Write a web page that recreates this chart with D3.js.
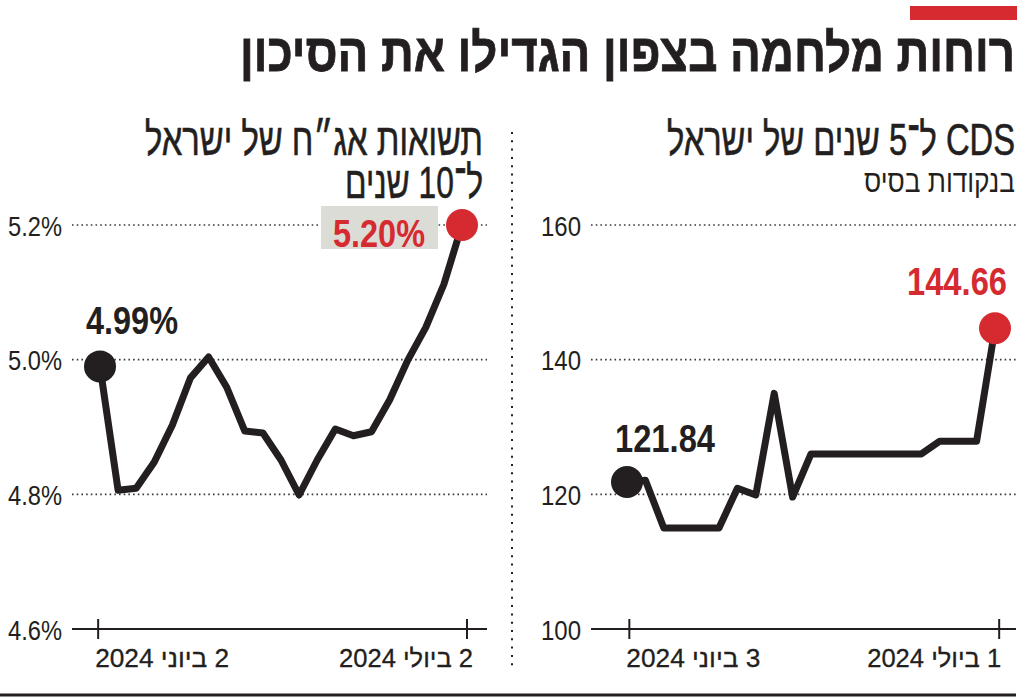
<!DOCTYPE html>
<html><head><meta charset="utf-8">
<script src="https://cdn.jsdelivr.net/npm/d3@7"></script>
<style>body{margin:0;background:#fff}svg{display:block}</style>
</head><body>
<svg id="c" width="1024" height="700"></svg>
<script>
// ---------- data ----------
const mainTitle = "רוחות מלחמה בצפון הגדילו את הסיכון";
const yieldTitle = ["תשואות אג״ח של ישראל", "ל־10 שנים"];
const cdsTitle = "CDS ל־5 שנים של ישראל";
const cdsSubtitle = "בנקודות בסיס";

const yieldValues = [4.99, 4.806, 4.809, 4.848, 4.903, 4.973, 5.004, 4.959, 4.894, 4.891, 4.851,
                     4.799, 4.851, 4.897, 4.887, 4.893, 4.940, 4.999, 5.048, 5.112, 5.20];
const cdsValues = [121.84, 122.1, 115.0, 115.0, 115.0, 115.0, 120.9, 119.9, 135.0, 119.6, 126.0,
                   126.0, 126.0, 126.0, 126.0, 126.0, 126.0, 127.9, 127.9, 127.9, 144.66];

const yieldTicks = [4.6, 4.8, 5.0, 5.2];
const yieldTickLabels = ["4.6%", "4.8%", "5.0%", "5.2%"];
const cdsTicks = [100, 120, 140, 160];
const cdsTickLabels = ["100", "120", "140", "160"];

const yieldDateLabels = ["2 ביוני 2024", "2 ביולי 2024"];
const yieldDatePos = [-0.13, 20.25];
const cdsDateLabels = ["3 ביוני 2024", "1 ביולי 2024"];
const cdsDatePos = [0.1, 20.2];

const yieldStartLabel = "4.99%";
const yieldEndLabel = "5.20%";
const cdsStartLabel = "121.84";
const cdsEndLabel = "144.66";

// ---------- style ----------
const INK = "#231f20", RED = "#d52a30", BOX = "#dcdcd6";
const FONT = "'Liberation Sans Narrow','Liberation Sans','DejaVu Sans',sans-serif";

const svg = d3.select("#c");

function addText(g, str, x, y, o) {
  const t = g.append("text").attr("x", x).attr("y", y).text(str)
    .attr("font-family", FONT).attr("font-size", o.size)
    .attr("font-weight", o.weight || "normal").attr("fill", o.fill || INK);
  if (o.rtl) t.attr("direction", "rtl");
  t.attr("text-anchor", o.anchor || "start");
  if (o.len) t.attr("textLength", o.len).attr("lengthAdjust", "spacingAndGlyphs");
  if (o.stroke) t.attr("stroke", o.fill || INK).attr("stroke-width", o.stroke);
  return t;
}

// red bar + main title
svg.append("rect").attr("x", 910).attr("y", 6).attr("width", 107).attr("height", 14).attr("fill", RED);
addText(svg, mainTitle, 1015, 71, {size: 53, weight: "bold", rtl: true, anchor: "start", len: 775, stroke: 0.8});

// separator + bottom rule
svg.append("line").attr("x1", 512).attr("x2", 512).attr("y1", 132).attr("y2", 668)
  .attr("stroke", INK).attr("stroke-width", 2).attr("stroke-dasharray", "2,6.3");
svg.append("line").attr("x1", 0).attr("x2", 1016).attr("y1", 695).attr("y2", 695)
  .attr("stroke", INK).attr("stroke-width", 3);

function panel(cfg) {
  const g = svg.append("g");
  const x = d3.scaleLinear().domain([0, cfg.values.length - 1]).range(cfg.xRange);
  const y = d3.scaleLinear().domain(d3.extent(cfg.ticks)).range([629, 225]);

  // gridlines
  g.selectAll(".grid").data(cfg.ticks.slice(1)).join("line")
    .attr("x1", cfg.axisX[0]).attr("x2", cfg.axisX[1])
    .attr("y1", d => y(d)).attr("y2", d => y(d))
    .attr("stroke", "#3a3a3a").attr("stroke-width", 1.6).attr("stroke-dasharray", "1.6,3.1");

  // y axis labels
  const ya = g.append("g").attr("transform", `translate(${cfg.axisX[0]},0)`)
    .call(d3.axisLeft(y).tickValues(cfg.ticks).tickFormat((d, i) => cfg.tickLabels[i]).tickSize(0).tickPadding(10));
  ya.select(".domain").remove();
  ya.selectAll("text").attr("font-family", FONT).attr("font-size", 28).attr("fill", INK)
    .attr("dy", "0.36em")
    .attr("textLength", d => cfg.tickLabels[cfg.ticks.indexOf(d)].length === 4 ? 54 : 40)
    .attr("lengthAdjust", "spacingAndGlyphs");

  // baseline
  g.append("line").attr("x1", cfg.axisX[0]).attr("x2", cfg.axisX[1])
    .attr("y1", 629).attr("y2", 629).attr("stroke", INK).attr("stroke-width", 2.2);

  // x axis ticks & date labels
  const xa = g.append("g").attr("transform", "translate(0,619)")
    .call(d3.axisBottom(x).tickValues(cfg.datePos).tickFormat((d, i) => cfg.dateLabels[i]).tickSize(20).tickPadding(8));
  xa.select(".domain").remove();
  xa.selectAll(".tick line").attr("stroke", INK).attr("stroke-width", 2);
  xa.selectAll(".tick text").each(function(d, i) {
    const t = d3.select(this);
    t.attr("font-family", FONT).attr("font-size", 25).attr("fill", INK)
      .attr("stroke", INK).attr("stroke-width", 0.3)
      .attr("direction", "rtl").attr("y", 48).attr("dy", 0)
      .attr("textLength", 134).attr("lengthAdjust", "spacingAndGlyphs");
    if (i === 0) t.attr("text-anchor", "end").attr("x", -3);   // left edge at tick
    else t.attr("text-anchor", "start").attr("x", cfg.lastDx); // right edge at tick
  });

  // titles
  cfg.titles.forEach(tt => addText(g, tt.text, tt.x, tt.y,
    {size: tt.size, weight: tt.weight, rtl: true, anchor: "start", len: tt.len, stroke: tt.stroke}));

  // line
  const line = d3.line().x((d, i) => x(i)).y(d => y(d));
  g.append("path").datum(cfg.values).attr("d", line).attr("fill", "none")
    .attr("stroke", INK).attr("stroke-width", 7).attr("stroke-linejoin", "round");

  const n = cfg.values.length - 1;
  const x0 = x(0), y0 = y(cfg.values[0]), xn = x(n), yn = y(cfg.values[n]);

  if (cfg.endBox) {
    g.append("rect").attr("x", xn - 141).attr("y", yn - 19).attr("width", 117).attr("height", 43).attr("fill", BOX);
  }
  g.append("circle").attr("cx", x0).attr("cy", y0).attr("r", 16).attr("fill", INK);
  g.append("circle").attr("cx", xn).attr("cy", yn).attr("r", 16).attr("fill", RED);

  addText(g, cfg.startLabel, x0 + cfg.startOff[0], y0 + cfg.startOff[1],
    {size: 39, weight: "bold", anchor: "start", len: cfg.startLen});
  addText(g, cfg.endLabel, xn + cfg.endOff[0], yn + cfg.endOff[1],
    {size: 39, weight: "bold", anchor: "end", fill: RED, len: cfg.endLen});
}

panel({
  values: yieldValues, ticks: yieldTicks, tickLabels: yieldTickLabels,
  xRange: [100, 462], axisX: [72, 487],
  dateLabels: yieldDateLabels, datePos: yieldDatePos, lastDx: 6,
  titles: [
    {text: yieldTitle[0], x: 483, y: 155, size: 45, len: 338, stroke: 0.6},
    {text: yieldTitle[1], x: 483, y: 198, size: 45, len: 138, stroke: 0.6}
  ],
  startLabel: yieldStartLabel, startOff: [-14, -32], startLen: 92,
  endLabel: yieldEndLabel, endOff: [-37, 22], endLen: 92, endBox: true
});

panel({
  values: cdsValues, ticks: cdsTicks, tickLabels: cdsTickLabels,
  xRange: [627, 995], axisX: [591, 1016],
  dateLabels: cdsDateLabels, datePos: cdsDatePos, lastDx: 2,
  titles: [
    {text: cdsTitle, x: 1015, y: 155, size: 45, len: 348, stroke: 0.6},
    {text: cdsSubtitle, x: 1015, y: 192, size: 31, len: 151}
  ],
  startLabel: cdsStartLabel, startOff: [-12, -30], startLen: 100,
  endLabel: cdsEndLabel, endOff: [12, -33], endLen: 100
});
</script>
</body></html>
